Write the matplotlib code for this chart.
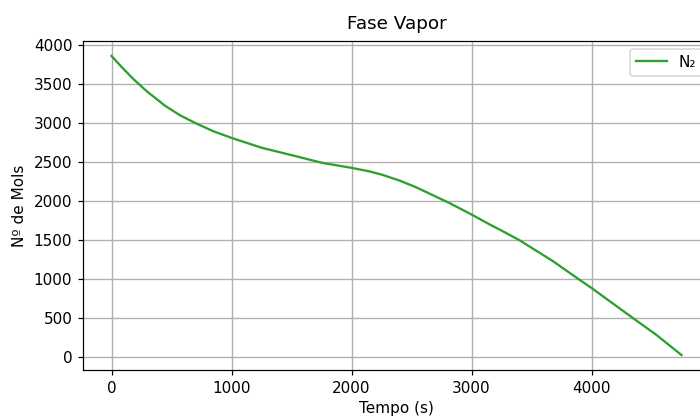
import matplotlib.pyplot as plt
import numpy as np

# values
tempo = [0, 90, 185, 300, 450, 575, 700, 850, 1005, 1255, 1534, 1756, 2000,
         2146, 2257, 2400, 2536, 2814, 3000, 3148, 3259, 3400, 3676, 3899,
         4000, 4344, 4539, 4750]
mols_n2 = [3860, 3709, 3560, 3400, 3218, 3097, 3000, 2895, 2808, 2683, 2577,
           2491, 2427, 2383, 2338, 2265, 2180, 1978, 1830, 1705, 1617, 1500,
           1235, 995, 889, 505, 290, 30]

DPI = 110
fig = plt.figure(figsize=(700 / DPI, 416 / DPI), dpi=DPI)
# the original image is cropped on the right, so the axes run past the edge
ax = fig.add_axes([83 / 700, 46 / 416, 627 / 700, 329 / 416])

ax.plot(tempo, mols_n2, color='#2ca02c', linewidth=1.5, label='N₂')

ax.set_title('Fase Vapor', fontsize=12, pad=8)
ax.set_xlabel('Tempo (s)', labelpad=3.5)
ax.set_ylabel('Nº de Mols', labelpad=4.5)
ax.set_xticks([0, 1000, 2000, 3000, 4000])
ax.set_yticks(np.arange(0, 4001, 500))
ax.grid(True, color='#b0b0b0', linewidth=0.9)
ax.legend(loc='upper right')

fig.savefig('out.png', dpi=DPI)
